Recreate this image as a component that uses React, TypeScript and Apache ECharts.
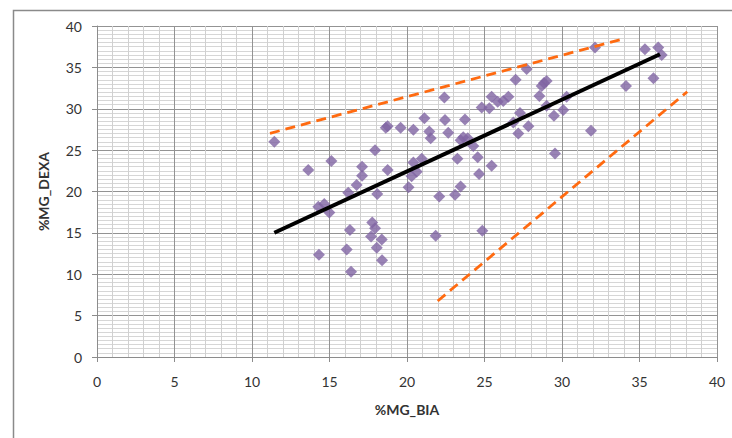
import React, { useEffect, useRef } from "react";
import * as echarts from "echarts";

const biaValues = [
  11.44, 13.63, 15.12, 18.63, 18.75, 19.59, 17.94, 17.1, 17.1, 18.75,
  16.75, 16.21, 18.08, 20.1, 32.13, 35.35, 36.21, 36.43, 35.9, 34.13,
  27.72, 27.01, 29.01, 28.84, 28.69, 28.54, 25.46, 25.85, 26.21, 26.54,
  22.41, 24.82, 25.31, 30.3, 30.08, 29.48, 29.01, 27.29, 27.83, 27.18,
  26.86, 31.87, 29.55, 21.12, 22.45, 23.74, 20.41, 21.44, 21.53, 22.66,
  23.63, 23.46, 23.92, 24.28, 23.25, 24.56, 25.46, 24.65, 20.41, 20.95,
  20.63, 20.3, 22.08, 23.1, 23.46, 21.85, 24.86, 14.66, 14.28, 14.99,
  17.76, 17.94, 17.68, 18.37, 18.05, 16.32, 16.11, 14.32, 18.39, 16.39,
];
const dexaValues = [
  26.0, 22.6, 23.7, 27.7, 27.9, 27.7, 25.0, 23.0, 21.9, 22.6,
  20.8, 19.85, 19.7, 20.5, 37.4, 37.2, 37.4, 36.5, 33.7, 32.75,
  34.8, 33.5, 33.35, 33.1, 32.75, 31.55, 31.45, 30.85, 30.95, 31.45,
  31.35, 30.15, 30.05, 31.45, 29.85, 29.15, 30.35, 29.5, 27.9, 27.0,
  28.35, 27.35, 24.6, 28.85, 28.65, 28.7, 27.45, 27.25, 26.45, 27.1,
  26.55, 26.2, 26.45, 25.5, 23.95, 24.15, 23.1, 22.1, 23.5, 23.95,
  22.4, 21.85, 19.4, 19.6, 20.6, 14.65, 15.25, 18.5, 18.15, 17.45,
  16.25, 15.55, 14.55, 14.2, 13.2, 15.35, 13.0, 12.35, 11.7, 10.3,
];

const regressionX = [11.44, 36.32];
const regressionY = [15.02, 36.58];
const upperX = [11.16, 33.92];
const upperY = [27.03, 38.43];
const lowerX = [21.98, 38.08];
const lowerY = [6.77, 32.06];

const xAxisTitle = "%MG_BIA";
const yAxisTitle = "%MG_DEXA";

const zip = (a: number[], b: number[]) => a.map((v, i) => [v, b[i]]);

const FONT = "Lato, 'Noto Sans', sans-serif";

export default function App() {
  const ref = useRef<HTMLDivElement>(null);
  useEffect(() => {
    if (!ref.current) return;
    const chart = echarts.init(ref.current, undefined, { renderer: "svg" });
    const dashStyle = { color: "#FF6A10", width: 2.8, type: [10, 6] as any };
    chart.setOption({
      animation: false,
      backgroundColor: "#ffffff",
      textStyle: { fontFamily: FONT },
      graphic: [
        {
          type: "rect",
          left: 11,
          top: 8,
          shape: { x: 0, y: 0, width: 740, height: 450 },
          style: { fill: "none", stroke: "#8a8a8a", lineWidth: 1.5 },
          silent: true,
        },
      ],
      grid: { left: 97, top: 26, right: 15, bottom: 81, containLabel: false },
      xAxis: {
        type: "value",
        min: 0,
        max: 40,
        interval: 5,
        name: xAxisTitle,
        nameLocation: "middle",
        nameGap: 45,
        nameTextStyle: { fontFamily: FONT, fontSize: 14, fontWeight: "bold", color: "#333" },
        axisLine: { show: true, lineStyle: { color: "#8c8c8c", width: 1 } },
        axisTick: { show: true, length: 5, lineStyle: { color: "#8c8c8c" } },
        axisLabel: { fontFamily: FONT, fontSize: 14, color: "#333", margin: 17 },
        splitLine: { show: true, lineStyle: { color: "#939393", width: 1 } },
        minorTick: { show: false, splitNumber: 5 },
        minorSplitLine: { show: true, lineStyle: { color: "#d0d0d0", width: 1 } },
      },
      yAxis: {
        type: "value",
        min: 0,
        max: 40,
        interval: 5,
        name: yAxisTitle,
        nameLocation: "middle",
        nameGap: 47,
        nameTextStyle: { fontFamily: FONT, fontSize: 14, fontWeight: "bold", color: "#333" },
        axisLine: { show: true, lineStyle: { color: "#8c8c8c", width: 1 } },
        axisTick: { show: true, length: 5, lineStyle: { color: "#8c8c8c" } },
        axisLabel: { fontFamily: FONT, fontSize: 14, color: "#333", margin: 15 },
        splitLine: { show: true, lineStyle: { color: "#939393", width: 1 } },
        minorTick: { show: false, splitNumber: 10 },
        minorSplitLine: { show: true, lineStyle: { color: "#d6d6d6", width: 1 } },
      },
      series: [
        {
          type: "scatter",
          symbol: "diamond",
          symbolSize: 12,
          itemStyle: { color: "#8064A2" },
          data: zip(biaValues, dexaValues),
          z: 2,
        },
        {
          type: "line",
          symbol: "none",
          data: zip(regressionX, regressionY),
          lineStyle: { color: "#000000", width: 4 },
          z: 3,
        },
        {
          type: "line",
          symbol: "none",
          data: zip(upperX, upperY),
          lineStyle: dashStyle,
          z: 3,
        },
        {
          type: "line",
          symbol: "none",
          data: zip(lowerX, lowerY),
          lineStyle: dashStyle,
          z: 3,
        },
      ],
    });
    return () => chart.dispose();
  }, []);
  return (
    <div
      ref={ref}
      style={{ position: "absolute", left: 0, top: 0, width: 732, height: 438 }}
    />
  );
}
